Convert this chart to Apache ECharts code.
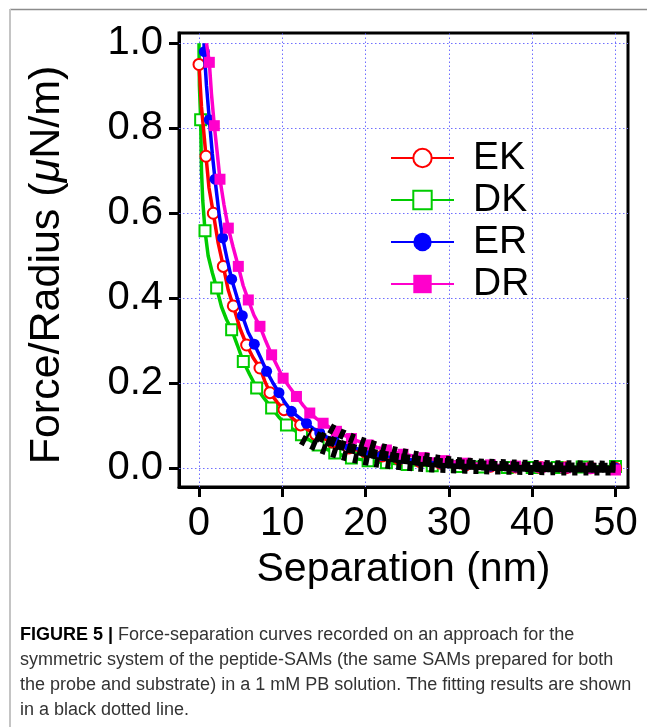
<!DOCTYPE html>
<html>
<head>
<meta charset="utf-8">
<script src="https://cdn.jsdelivr.net/npm/echarts@6/dist/echarts.min.js"></script>
<style>
html,body{margin:0;padding:0;background:#fff;}
#c{width:647px;height:727px;}
</style>
</head>
<body>
<div id="c"></div>
<script>
// ---- data ----
const xTicks = [0, 10, 20, 30, 40, 50];
const yTicks = [0.0, 0.2, 0.4, 0.6, 0.8, 1.0];
const seriesNames = ['EK', 'DK', 'ER', 'DR'];

const ekLine = [[0.3,0.85],[1.2,0.66],[2.3,0.53],[3.5,0.42],[4.9,0.33],[6.5,0.26],[7.9,0.205],[9.4,0.155],[11.2,0.118],[13.1,0.09],[15,0.07],[17,0.055],[19,0.043],[21,0.033],[23,0.025],[25.2,0.019]];
const ekMarks = [[0.0,0.95],[0.84,0.734],[1.72,0.60],[2.92,0.475],[4.12,0.382],[5.72,0.29],[7.32,0.236],[8.52,0.178],[10.2,0.138],[12.2,0.102],[14,0.08],[16,0.062],[18,0.048],[20,0.038],[22,0.029],[24,0.022],[26.5,0.016],[29,0.012],[32,0.008],[35,0.005],[38,0.003],[41,0.002],[44,0.001],[47,0.001],[50,0.0]];

const dkLine = [[0.0,1.0],[0.05,0.9],[0.3,0.70],[0.45,0.63],[1.1,0.50],[1.6,0.46],[2.7,0.38],[3.3,0.35],[4.6,0.29],[6.1,0.22],[7.8,0.165],[9.6,0.12],[11.4,0.09],[13.3,0.066],[15.3,0.045],[17.3,0.03],[19.3,0.021]];
const dkMarks = [[0.2,0.82],[0.72,0.559],[2.12,0.424],[3.92,0.326],[5.32,0.251],[6.92,0.189],[8.72,0.142],[10.5,0.102],[12.3,0.079],[14.3,0.055],[16.3,0.036],[18.3,0.024],[20.3,0.018],[22.5,0.013],[25,0.009],[28,0.006],[31,0.004],[34,0.003],[37,0.002],[40,0.002],[43,0.002],[46,0.003],[50,0.004]];

const erLine = [[0.6,1.0],[0.9,0.90],[1.6,0.74],[2.4,0.60],[3.4,0.49],[4.6,0.40],[5.9,0.32],[7.4,0.26],[8.9,0.20],[10.3,0.155],[12.0,0.12],[13.7,0.094],[15.3,0.074],[17.1,0.059]];
const erMarks = [[0.64,0.98],[1.24,0.82],[1.92,0.68],[2.84,0.542],[3.92,0.445],[5.2,0.359],[6.64,0.292],[8.12,0.228],[9.6,0.178],[11.1,0.134],[12.9,0.106],[14.5,0.083],[16.2,0.066],[18,0.052],[20,0.04],[22,0.03],[24.2,0.023],[26.5,0.017],[29,0.012],[32,0.008],[35,0.005],[38,0.003],[41,0.002],[44,0.001],[47,0.0],[50,0.0]];

const drLine = [[0.9,1.0],[1.5,0.88],[2.2,0.74],[3.0,0.62],[4.1,0.52],[5.3,0.43],[6.6,0.36],[8.0,0.30],[9.4,0.24],[10.9,0.19],[12.5,0.148],[14.1,0.117],[15.7,0.096],[17.4,0.078]];
const drMarks = [[1.24,0.955],[1.84,0.806],[2.52,0.68],[3.52,0.565],[4.72,0.475],[5.92,0.396],[7.32,0.334],[8.72,0.267],[10.1,0.212],[11.7,0.169],[13.3,0.13],[14.9,0.106],[16.5,0.087],[18.3,0.07],[20.3,0.055],[22.5,0.043],[24.5,0.033],[27,0.025],[29.5,0.018],[32,0.012],[35,0.008],[38,0.005],[41,0.003],[44,0.001],[47,0.0],[50,-0.004]];

// fitted curves (black dotted)
const fitDK = [[12.3,0.068],[14,0.052],[16,0.038],[18,0.027],[20,0.019],[22,0.012],[25,0.006],[28,0.002],[32,-0.001],[36,-0.003],[40,-0.004],[45,-0.005],[50,-0.005]];
const fitEK = [[13.2,0.085],[15,0.068],[17,0.054],[19,0.043],[21,0.034],[23,0.027],[26,0.019],[29,0.013],[33,0.008],[37,0.005],[41,0.003],[45,0.002],[50,0.001]];
const fitER = [[14,0.080],[16,0.063],[18,0.049],[20,0.038],[22,0.030],[25,0.021],[28,0.014],[32,0.009],[36,0.005],[40,0.003],[45,0.002],[50,0.001]];
const fitDR = [[15.5,0.097],[17,0.082],[19,0.066],[21,0.053],[23,0.042],[25,0.033],[27,0.026],[30,0.017],[33,0.012],[36,0.010],[40,0.008],[45,0.007],[50,0.006]];

const captionLines = [
  'Force-separation curves recorded on an approach for the',
  'symmetric system of the peptide-SAMs (the same SAMs prepared for both',
  'the probe and substrate) in a 1 mM PB solution. The fitting results are shown',
  'in a black dotted line.'
];

function merge(line, marks) {
  const pts = line.map(p => ({ value: p, symbol: 'none' }))
    .concat(marks.map(p => ({ value: p })));
  pts.sort((a, b) => a.value[0] - b.value[0] || b.value[1] - a.value[1]);
  return pts;
}

const FONT = '"Liberation Sans", Arial, Helvetica, sans-serif';
const TICK = '#000000';

function dataSeries(name, line, marks, color, symbol, open, z) {
  return {
    name: name, type: 'line', z: z,
    data: merge(line, marks),
    symbol: symbol, symbolSize: 11, showAllSymbol: true,
    lineStyle: { color: color, width: 3.5 },
    itemStyle: open ? { color: '#ffffff', borderColor: color, borderWidth: 2 } : { color: color, borderColor: color, borderWidth: 0 },
    emphasis: { disabled: true },
    animation: false
  };
}
function fitSeries(pts, z, off) {
  return {
    type: 'line', z: z, data: pts, symbol: 'none', smooth: true,
    lineStyle: { color: '#000', width: 10, type: [5, 6], dashOffset: off },
    emphasis: { disabled: true }, animation: false
  };
}

const grid = { left: 179, right: 19, top: 33, bottom: 240 };
const gridLines = xTicks.map(v => ({ xAxis: v })).concat(yTicks.map(v => ({ yAxis: v })));

const chart = echarts.init(document.getElementById('c'));
chart.setOption({
  animation: false,
  backgroundColor: '#fff',
  textStyle: { fontFamily: FONT },
  grid: Object.assign({ show: true, borderColor: '#000', borderWidth: 3, backgroundColor: 'transparent' }, grid),
  xAxis: {
    type: 'value', min: -2.4, max: 51.5,
    name: 'Separation (nm)', nameLocation: 'middle', nameGap: 62,
    nameTextStyle: { fontSize: 41, color: '#000', fontFamily: FONT },
    axisLine: { show: true, onZero: false, lineStyle: { color: '#000', width: 3 } },
    axisTick: { show: true, inside: false, length: 10, lineStyle: { color: TICK, width: 3 }, customValues: xTicks },
    axisLabel: { fontSize: 40, color: '#000', margin: 17, fontFamily: FONT, customValues: xTicks },
    splitLine: { show: false }
  },
  yAxis: {
    type: 'value', min: -0.044, max: 1.024,
    name: 'Force/Radius ({i|μ}N/m)', nameLocation: 'middle', nameGap: 110,
    nameTextStyle: { fontSize: 43, color: '#000', fontFamily: FONT, padding: [0, 10, 0, 0],
      rich: { i: { fontSize: 43, fontStyle: 'italic', color: '#000', fontFamily: FONT } } },
    axisLine: { show: true, onZero: false, lineStyle: { color: '#000', width: 3 } },
    axisTick: { show: true, inside: false, length: 10, lineStyle: { color: TICK, width: 3 }, customValues: yTicks },
    axisLabel: { fontSize: 40, color: '#000', margin: 16, fontFamily: FONT, customValues: yTicks, padding: [4, 0, 0, 0],
      formatter: v => Number(v).toFixed(1) },
    splitLine: { show: false }
  },
  legend: {
    data: seriesNames, orient: 'vertical', left: 390, top: 138, padding: 0,
    itemWidth: 63, itemHeight: 23, itemGap: 2, selectedMode: false,
    textStyle: { fontSize: 39, color: '#000', fontFamily: FONT, padding: [0, 0, 0, 14], lineHeight: 40 }
  },
  series: [
    dataSeries('DK', dkLine, dkMarks, '#00cc00', 'rect', true, 2),
    dataSeries('EK', ekLine, ekMarks, '#ff0000', 'circle', true, 3),
    dataSeries('ER', erLine, erMarks, '#0000ff', 'circle', false, 4),
    dataSeries('DR', drLine, drMarks, '#ff00cc', 'rect', false, 5),
    fitSeries(fitDK, 6, 0), fitSeries(fitEK, 6, 3), fitSeries(fitER, 6, 6), fitSeries(fitDR, 6, 9),
    { type: 'line', data: [], z: 1, silent: true,
      markLine: { silent: true, symbol: 'none', label: { show: false }, animation: false, z: 1,
        lineStyle: { color: '#6f6fff', width: 1, type: [1.5, 2.5] }, data: gridLines } }
  ],
  graphic: [
    { type: 'line', shape: { x1: 10, y1: 9.5, x2: 647, y2: 9.5 }, style: { stroke: '#8c8c8c', lineWidth: 1.5 }, silent: true },
    { type: 'line', shape: { x1: 10, y1: 9, x2: 10, y2: 727 }, style: { stroke: '#c4c4c4', lineWidth: 2 }, silent: true },
    { type: 'text', left: 20, top: 626, silent: true,
      style: { text: '{b|FIGURE 5 |} ' + captionLines[0], fill: '#333', font: '18px ' + FONT,
        rich: { b: { fontWeight: 'bold', fill: '#000', fontSize: 18, fontFamily: FONT } } } },
    { type: 'text', left: 20, top: 651, silent: true, style: { text: captionLines[1], fill: '#333', font: '18px ' + FONT } },
    { type: 'text', left: 20, top: 676, silent: true, style: { text: captionLines[2], fill: '#333', font: '18px ' + FONT } },
    { type: 'text', left: 20, top: 701, silent: true, style: { text: captionLines[3], fill: '#333', font: '18px ' + FONT } }
  ]
});
</script>
</body>
</html>
